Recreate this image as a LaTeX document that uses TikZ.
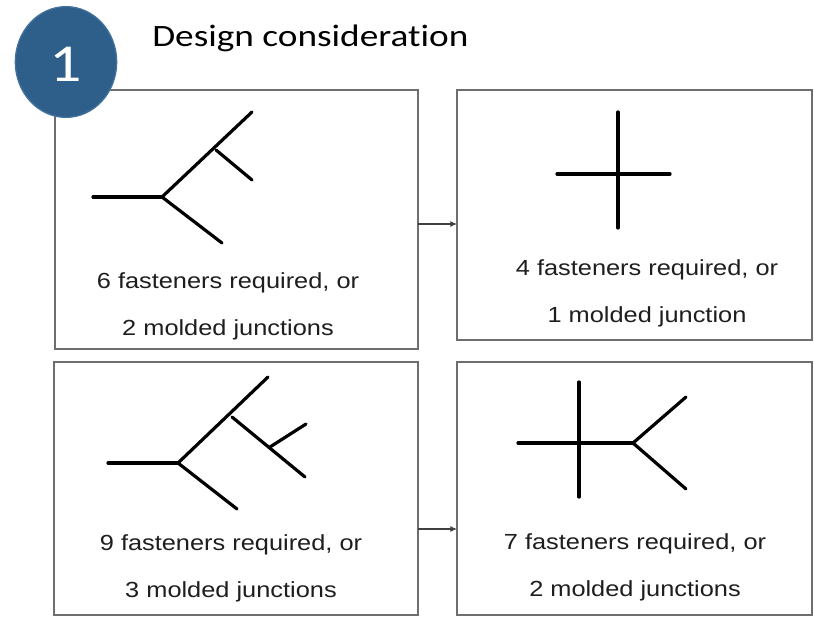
\documentclass[tikz,border=0pt]{standalone}
\usepackage{fontspec}
\setmainfont{Carlito}[Ligatures={NoCommon}, FakeStretch=1.2]
\newfontfamily\boxfont[FakeStretch=1.16]{Liberation Sans}
\usetikzlibrary{arrows.meta,shapes.geometric}
\definecolor{badge}{RGB}{46,94,138}
\definecolor{badgeedge}{RGB}{65,113,156}
\definecolor{boxline}{RGB}{110,110,110}
\definecolor{txt}{RGB}{30,30,30}
\tikzset{
  panel/.style={draw=boxline, line width=1.6pt, fill=white},
  part/.style={line width=2.4pt, line cap=round, black},
  caption/.style={align=center, text=txt, inner sep=0pt,
    font={\boxfont\fontsize{16.4}{35.2}\selectfont}},
  link/.style={draw=black!75, line width=0.8pt, -{Latex[length=5pt,width=4.5pt]}},
}
\begin{document}
\begin{tikzpicture}[x=0.75pt,y=-0.75pt]
\useasboundingbox (0,0) rectangle (814,617);
% panels
\draw[panel] (55,90) rectangle (418,349);
\draw[panel] (457,90) rectangle (812,340);
\draw[panel] (54,362) rectangle (418,615);
\draw[panel] (457,362) rectangle (812,615);
\coordinate (p1e) at (418,224);
\coordinate (p2w) at (457,224);
\coordinate (p3e) at (418,529);
\coordinate (p4w) at (457,529);
\draw[link] (p1e) -- (p2w);
\draw[link] (p3e) -- (p4w);
% badge and title
\node[ellipse, fill=badge, draw=badgeedge, line width=1pt, minimum width=76pt, minimum height=83pt, inner sep=0pt] (badge) at (66,62) {};
\node[text=white, font={\fontsize{40}{40}\selectfont}, inner sep=0pt] (num) at (66,64) {1};
\node[anchor=base west, inner sep=0pt, font={\fontsize{23.3}{28}\selectfont}, text=black] (title) at (152,47) {Design consideration};
% figure 1
\draw[part] (93,197) -- (162,197);
\draw[part] (162,197) -- (252,112);
\draw[part] (216,150) -- (252,180);
\draw[part] (162,197) -- (222,243);
% figure 2
\draw[part] (557,174) -- (670,174);
\draw[part] (618,112) -- (618,228);
% figure 3
\draw[part] (108,463) -- (178,463);
\draw[part] (178,463) -- (268,377);
\draw[part] (232,417) -- (305,477);
\draw[part] (270,447) -- (306,424);
\draw[part] (178,463) -- (237,509);
% figure 4
\draw[part] (518,443) -- (633,443);
\draw[part] (579,382) -- (579,497);
\draw[part] (633,443) -- (686,397);
\draw[part] (633,443) -- (686,489);
% captions (anchor base = baseline of the last line)
\node[caption, anchor=base] (c1) at (228,335) {6 fasteners required, or\\2 molded junctions};
\node[caption, anchor=base] (c2) at (647,322) {4 fasteners required, or\\1 molded junction};
\node[caption, anchor=base] (c3) at (231,597) {9 fasteners required, or\\3 molded junctions};
\node[caption, anchor=base] (c4) at (635,596) {7 fasteners required, or\\2 molded junctions};
\end{tikzpicture}
\end{document}
